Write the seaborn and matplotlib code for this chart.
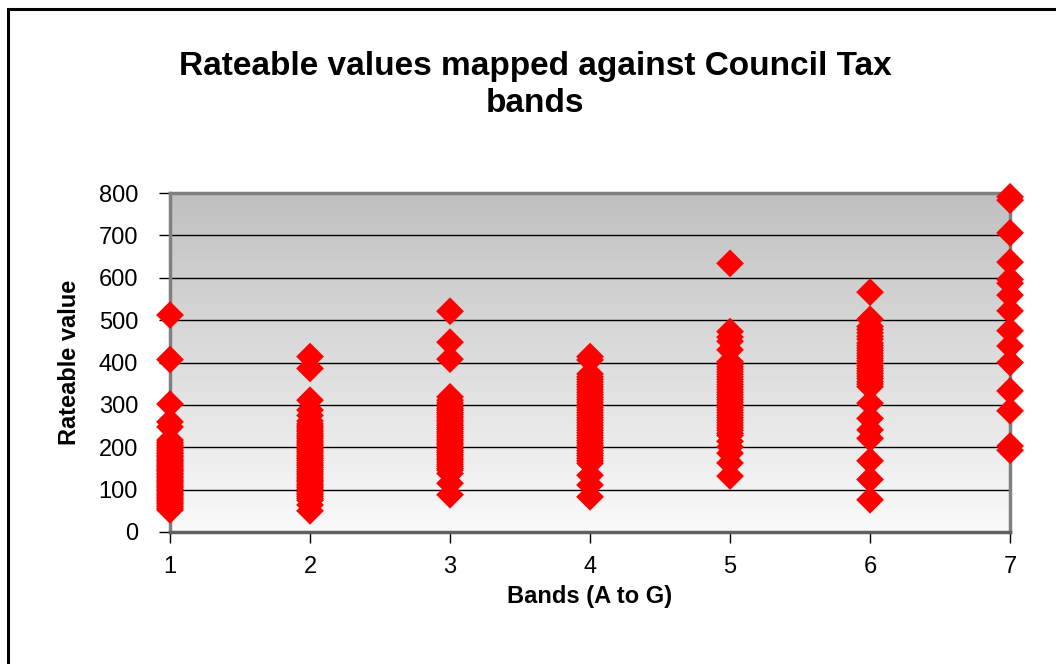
import numpy as np
import pandas as pd
import matplotlib
matplotlib.use('Agg')
import matplotlib.pyplot as plt
from matplotlib.colors import LinearSegmentedColormap
from matplotlib.patches import Rectangle
import seaborn as sns

# rateable values, one list per council tax band
band_1 = [512, 407, 302, 260, 248, 217, 212, 208, 204, 200, 196, 192, 188, 185, 181,
          178, 175, 171, 168, 165, 161, 158, 155, 151, 148, 145, 142, 138, 135, 131,
          128, 125, 121, 118, 115, 111, 108, 105, 101, 98, 95, 91, 88, 85, 81, 78,
          75, 71, 68, 64, 60, 56, 52]
band_2 = [414, 386, 311, 288, 275, 262, 255, 250, 246, 241, 237, 232, 228, 224, 220,
          215, 211, 207, 203, 198, 194, 190, 186, 181, 177, 173, 169, 164, 160, 156,
          152, 147, 143, 139, 135, 130, 126, 122, 118, 113, 109, 105, 101, 96, 92,
          88, 84, 79, 75, 64, 50]
band_3 = [521, 448, 408, 319, 311, 305, 300, 296, 291, 287, 282, 278, 273, 269, 264,
          260, 255, 251, 246, 242, 237, 233, 228, 224, 219, 215, 210, 206, 201, 197,
          192, 188, 183, 179, 174, 170, 165, 160, 155, 150, 146, 138, 115, 88]
band_4 = [414, 406, 373, 366, 360, 354, 348, 342, 336, 330, 324, 318, 312, 306, 300,
          294, 288, 282, 276, 270, 264, 258, 252, 246, 240, 234, 228, 222, 216, 210,
          204, 198, 192, 186, 180, 174, 168, 162, 134, 111, 83]
band_5 = [634, 473, 460, 450, 430, 402, 396, 390, 384, 378, 372, 366, 360, 354, 348,
          342, 336, 330, 324, 318, 312, 306, 300, 294, 288, 282, 276, 270, 264, 258,
          252, 246, 240, 233, 228, 214, 201, 186, 163, 132]
band_6 = [566, 502, 485, 478, 470, 462, 455, 446, 440, 434, 428, 422, 416, 410, 404,
          398, 392, 386, 380, 374, 368, 362, 355, 349, 343, 304, 268, 241, 221, 168,
          124, 76]
band_7 = [791, 783, 706, 637, 596, 587, 559, 522, 475, 439, 400, 333, 286, 203, 193]

bands = [1, 2, 3, 4, 5, 6, 7]
values = [band_1, band_2, band_3, band_4, band_5, band_6, band_7]

df = pd.DataFrame({
    'band': np.repeat(bands, [len(v) for v in values]),
    'value': np.concatenate(values),
})

sns.set_style('white')
plt.rcParams['font.family'] = ['Liberation Sans', 'DejaVu Sans']
plt.rcParams['text.color'] = 'black'
plt.rcParams['axes.labelcolor'] = 'black'
plt.rcParams['xtick.color'] = 'black'
plt.rcParams['ytick.color'] = 'black'

fig = plt.figure(figsize=(10.56, 6.64), dpi=100)
ax = fig.add_axes([0.161, 0.1988, 0.7955, 0.5105])

# grey-to-white gradient plot background
grad = LinearSegmentedColormap.from_list('bg', ['#fafafa', '#c0c0c0'])
ax.imshow(np.linspace(0, 1, 256).reshape(-1, 1), cmap=grad, origin='lower',
          extent=[1, 7, 0, 800], aspect='auto', zorder=0)

sns.scatterplot(data=df, x='band', y='value', marker='D', s=200, color='#ff0000',
                edgecolor='none', linewidth=0, ax=ax, zorder=3, clip_on=False)

ax.set_xlim(1, 7)
ax.set_ylim(0, 800)
ax.set_xticks(bands)
ax.set_yticks(range(0, 801, 100))
ax.set_axisbelow(True)
ax.yaxis.grid(True, color='black', linewidth=1)
ax.xaxis.grid(False)

for side in ['left', 'right', 'top']:
    ax.spines[side].set_color('#808080')
    ax.spines[side].set_linewidth(2.5)
ax.spines['bottom'].set_color('#606060')
ax.spines['bottom'].set_linewidth(2.5)

ax.tick_params(axis='y', direction='out', length=8, width=1, color='black',
               labelsize=17, pad=15, left=True)
ax.tick_params(axis='x', direction='out', length=8, width=1, color='black',
               labelsize=17, pad=9, bottom=True)

ax.set_xlabel('Bands (A to G)', fontsize=17, fontweight='bold', labelpad=5)
ax.set_ylabel('Rateable value', fontsize=17, fontweight='bold', labelpad=13)

fig.text(0.5066, 0.872, 'Rateable values mapped against Council Tax\nbands',
         ha='center', va='center', fontsize=24, fontweight='bold', linespacing=1.22)

# chart frame
fig.patches.append(Rectangle((0.0076, -0.1), 1.2, 1.0864, transform=fig.transFigure,
                             fill=False, edgecolor='black', linewidth=2.2))

fig.savefig('out.png', dpi=100)
